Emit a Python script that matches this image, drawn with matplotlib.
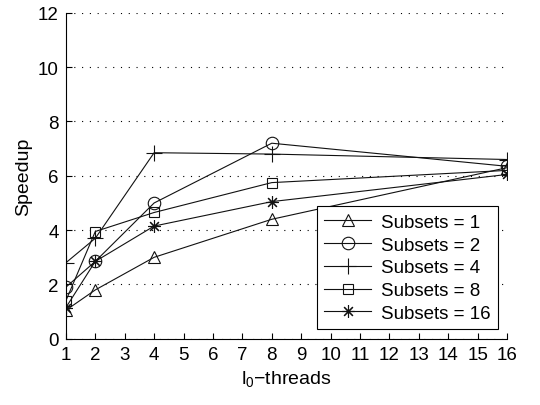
import matplotlib
matplotlib.use("Agg")
import matplotlib.pyplot as plt

plt.rcParams['font.family'] = ['Liberation Sans', 'DejaVu Sans']

threads = [1, 2, 4, 8, 16]
s1 = [1.05, 1.8, 3.0, 4.4, 6.3]
s2 = [1.9, 2.85, 5.0, 7.2, 6.35]
s4 = [2.8, 3.7, 6.85, 6.8, 6.6]
s8 = [1.4, 3.95, 4.65, 5.75, 6.2]
s16 = [1.15, 2.85, 4.15, 5.05, 6.05]
labels = ['Subsets = 1', 'Subsets = 2', 'Subsets = 4', 'Subsets = 8', 'Subsets = 16']
xticks = list(range(1, 17))
yticks = [0, 2, 4, 6, 8, 10, 12]

fig = plt.figure(figsize=(5.4, 4.06), dpi=100)
ax = fig.add_axes([0.122, 0.163, 0.817, 0.803])

series = [s1, s2, s4, s8, s16]
markers = ['^', 'o', '+', 's', (8, 2, 0)]
msizes = [9, 9, 11, 7, 9]
for ys, m, ms, lab in zip(series, markers, msizes, labels):
    ax.plot(threads, ys, color='#111111', lw=0.8, marker=m, markersize=ms,
            markerfacecolor='none', markeredgecolor='#111111', markeredgewidth=0.8,
            label=lab)

ax.set_xlim(1, 16)
ax.set_ylim(0, 12)
ax.set_xticks(xticks)
ax.set_yticks(yticks)
ax.tick_params(direction='in', length=4, labelsize=13.5, width=0.8, pad=5)
ax.spines['top'].set_visible(False)
ax.spines['right'].set_visible(False)
ax.yaxis.grid(True, linestyle=(0, (1, 6)), color='black', lw=0.8)
ax.set_axisbelow(True)

ax.set_xlabel(r'$\mathregular{l_0}$−threads', fontsize=14)
ax.set_ylabel('Speedup', fontsize=14)

leg = ax.legend(loc='lower right', fontsize=13.5, frameon=True, fancybox=False,
                edgecolor='black', framealpha=1, handlelength=2.5,
                borderaxespad=0.5, labelspacing=0.3, borderpad=0.4,
                handletextpad=0.5)
leg.get_frame().set_linewidth(0.8)

fig.savefig('out.png', dpi=100)
